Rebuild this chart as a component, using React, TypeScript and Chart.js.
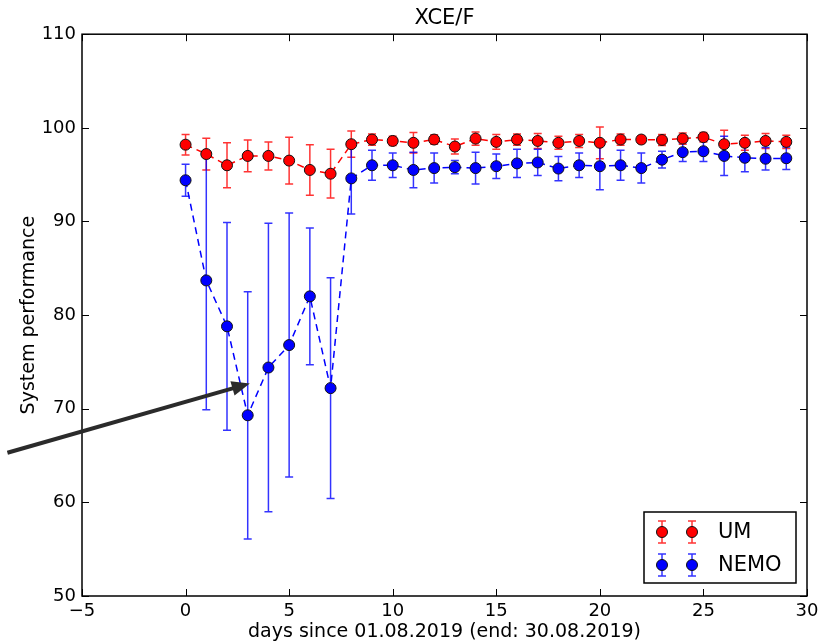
import { useEffect, useRef } from "react";
import { Chart, registerables } from "chart.js";

Chart.register(...registerables);

const FONT = "'DejaVu Sans', 'Liberation Sans', sans-serif";

// days since 01.08.2019
const days = [0, 1, 2, 3, 4, 5, 6, 7, 8, 9, 10, 11, 12, 13, 14, 15, 16, 17, 18, 19, 20, 21, 22, 23, 24, 25, 26, 27, 28, 29];

const umValues = [98.2, 97.2, 96.0, 97.0, 97.0, 96.5, 95.5, 95.1, 98.25, 98.75, 98.6, 98.4, 98.75, 98.0, 98.85, 98.5, 98.75, 98.6, 98.4, 98.6, 98.4, 98.75, 98.75, 98.7, 98.85, 99.0, 98.25, 98.4, 98.6, 98.5];
const umErrors = [1.1, 1.7, 2.4, 1.7, 1.5, 2.5, 2.7, 2.6, 1.4, 0.6, 0.5, 1.1, 0.5, 0.8, 0.7, 0.8, 0.6, 0.8, 0.7, 0.7, 1.7, 0.6, 0.4, 0.6, 0.6, 0.5, 1.5, 0.8, 0.8, 0.7];

const nemoValues = [94.4, 83.7, 78.8, 69.3, 74.4, 76.8, 82.0, 72.2, 94.6, 96.0, 96.0, 95.5, 95.7, 95.8, 95.7, 95.9, 96.2, 96.3, 95.65, 96.0, 95.9, 96.0, 95.7, 96.6, 97.4, 97.5, 97.0, 96.8, 96.7, 96.75];
const nemoErrors = [1.7, 13.8, 11.1, 13.2, 15.4, 14.1, 7.3, 11.8, 3.8, 1.6, 1.3, 1.9, 1.6, 0.7, 1.7, 1.3, 1.5, 1.4, 1.3, 1.3, 2.5, 1.6, 1.6, 0.9, 1.0, 1.1, 2.1, 1.5, 1.2, 1.2];

const xTicks = [-5, 0, 5, 10, 15, 20, 25, 30];
const yTicks = [50, 60, 70, 80, 90, 100, 110];

const seriesNames = ["UM", "NEMO"];
const titleText = "XCE/F";
const xTitle = "days since 01.08.2019 (end: 30.08.2019)";
const yTitle = "System performance";

// annotation arrow, tail and head in data units
const arrowTail = { x: -8.6, y: 65.3 };
const arrowHead = { x: 3.1, y: 72.7 };

const UM_COLOR = "#ff0000";
const NEMO_COLOR = "#0000ff";
const UM_ERR = "rgba(255,0,0,0.8)";
const NEMO_ERR = "rgba(0,0,255,0.8)";

const fmt = (v: number) => (v < 0 ? "\u2212" + Math.abs(v) : String(v));

type Series = { color: string; errColor: string; values: number[]; errors: number[] };
const series: Series[] = [
  { color: UM_COLOR, errColor: UM_ERR, values: umValues, errors: umErrors },
  { color: NEMO_COLOR, errColor: NEMO_ERR, values: nemoValues, errors: nemoErrors },
];

function drawErrorBar(ctx: CanvasRenderingContext2D, x: number, yTop: number, yBot: number, color: string) {
  const cap = 4;
  ctx.strokeStyle = color;
  ctx.lineWidth = 1.5;
  ctx.beginPath();
  ctx.moveTo(x, yTop);
  ctx.lineTo(x, yBot);
  ctx.moveTo(x - cap, yTop);
  ctx.lineTo(x + cap, yTop);
  ctx.moveTo(x - cap, yBot);
  ctx.lineTo(x + cap, yBot);
  ctx.stroke();
}

function drawMarker(ctx: CanvasRenderingContext2D, x: number, y: number, color: string) {
  ctx.beginPath();
  ctx.arc(x, y, 5.5, 0, Math.PI * 2);
  ctx.fillStyle = color;
  ctx.fill();
  ctx.lineWidth = 1;
  ctx.strokeStyle = "#111";
  ctx.stroke();
}

const errorBarPlugin = {
  id: "errorBars",
  beforeDatasetsDraw(chart: any) {
    const { ctx, chartArea, scales } = chart;
    ctx.save();
    ctx.beginPath();
    ctx.rect(chartArea.left, chartArea.top, chartArea.right - chartArea.left, chartArea.bottom - chartArea.top);
    ctx.clip();
    series.forEach((s) => {
      days.forEach((d, i) => {
        const x = scales.x.getPixelForValue(d);
        const yTop = scales.y.getPixelForValue(s.values[i] + s.errors[i]);
        const yBot = scales.y.getPixelForValue(s.values[i] - s.errors[i]);
        drawErrorBar(ctx, x, yTop, yBot, s.errColor);
      });
    });
    ctx.restore();
  },
};

const framePlugin = {
  id: "frame",
  afterDatasetsDraw(chart: any) {
    const { ctx, chartArea, scales } = chart;
    const { left, right, top, bottom } = chartArea;
    const tl = 7;
    ctx.save();
    ctx.strokeStyle = "#000";
    ctx.lineWidth = 1;
    ctx.beginPath();
    xTicks.forEach((v) => {
      const x = Math.round(scales.x.getPixelForValue(v)) + 0.5;
      ctx.moveTo(x, bottom);
      ctx.lineTo(x, bottom - tl);
      ctx.moveTo(x, top);
      ctx.lineTo(x, top + tl);
    });
    yTicks.forEach((v) => {
      const y = Math.round(scales.y.getPixelForValue(v)) + 0.5;
      ctx.moveTo(left, y);
      ctx.lineTo(left + tl, y);
      ctx.moveTo(right, y);
      ctx.lineTo(right - tl, y);
    });
    ctx.stroke();
    ctx.lineWidth = 1.5;
    ctx.strokeRect(left, top, right - left, bottom - top);
    ctx.restore();
  },
};

const overlayPlugin = {
  id: "overlay",
  afterDraw(chart: any) {
    const { ctx, chartArea, scales } = chart;
    ctx.save();

    // legend box in the lower right corner
    const bw = 152;
    const bh = 71;
    const bx = chartArea.right - 11 - bw;
    const by = chartArea.bottom - 13 - bh;
    ctx.fillStyle = "#fff";
    ctx.fillRect(bx, by, bw, bh);
    ctx.strokeStyle = "#000";
    ctx.lineWidth = 1.5;
    ctx.strokeRect(bx, by, bw, bh);
    const rows = [by + 20, by + 53];
    seriesNames.forEach((name, i) => {
      const s = series[i];
      const cy = rows[i];
      [bx + 18, bx + 48].forEach((mx) => {
        drawErrorBar(ctx, mx, cy - 11, cy + 11, s.errColor);
        drawMarker(ctx, mx, cy, s.color);
      });
      ctx.fillStyle = "#000";
      ctx.font = `21px ${FONT}`;
      ctx.textAlign = "left";
      ctx.textBaseline = "middle";
      ctx.fillText(name, bx + 74, cy + 1);
    });

    // annotation arrow
    const x0 = scales.x.getPixelForValue(arrowTail.x);
    const y0 = scales.y.getPixelForValue(arrowTail.y);
    const x1 = scales.x.getPixelForValue(arrowHead.x);
    const y1 = scales.y.getPixelForValue(arrowHead.y);
    const ang = Math.atan2(y1 - y0, x1 - x0);
    const headLen = 18;
    const headHalf = 7.5;
    const bxp = x1 - headLen * Math.cos(ang);
    const byp = y1 - headLen * Math.sin(ang);
    ctx.strokeStyle = "#2b2b2b";
    ctx.fillStyle = "#2b2b2b";
    ctx.lineWidth = 4;
    ctx.lineCap = "butt";
    ctx.beginPath();
    ctx.moveTo(x0, y0);
    ctx.lineTo(bxp + 2 * Math.cos(ang), byp + 2 * Math.sin(ang));
    ctx.stroke();
    ctx.beginPath();
    ctx.moveTo(x1, y1);
    ctx.lineTo(bxp - headHalf * Math.sin(ang), byp + headHalf * Math.cos(ang));
    ctx.lineTo(bxp + headHalf * Math.sin(ang), byp - headHalf * Math.cos(ang));
    ctx.closePath();
    ctx.fill();
    ctx.restore();
  },
};

export default function App() {
  const canvasRef = useRef<HTMLCanvasElement | null>(null);

  useEffect(() => {
    const canvas = canvasRef.current;
    if (!canvas) return;

    const datasets = series.map((s, i) => ({
      label: seriesNames[i],
      data: days.map((d, j) => ({ x: d, y: s.values[j] })),
      borderColor: s.color,
      backgroundColor: s.color,
      borderWidth: 1.5,
      borderDash: [7, 5],
      pointRadius: 5.5,
      pointBorderWidth: 1,
      pointBorderColor: "#111",
      pointBackgroundColor: s.color,
      tension: 0,
      fill: false,
    }));

    const chart = new Chart(canvas, {
      type: "line",
      data: { datasets },
      options: {
        animation: false,
        responsive: false,
        devicePixelRatio: 1,
        layout: { padding: { left: 0, right: 12, top: 0, bottom: 0 } },
        plugins: {
          legend: { display: false },
          tooltip: { enabled: false },
          title: {
            display: true,
            text: titleText,
            fullSize: false,
            color: "#000",
            font: { family: FONT, size: 21, weight: "normal" },
            padding: { top: 6, bottom: 3 },
          },
        },
        scales: {
          x: {
            type: "linear",
            min: -5,
            max: 30,
            afterBuildTicks: (scale: any) => {
              scale.ticks = xTicks.map((v) => ({ value: v }));
            },
            afterFit: (scale: any) => {
              scale.height = 45;
              scale.paddingLeft = 0;
              scale.paddingRight = 0;
            },
            ticks: {
              color: "#000",
              font: { family: FONT, size: 18 },
              padding: 5,
              maxRotation: 0,
              autoSkip: false,
              callback: (v: any) => fmt(Number(v)),
            },
            grid: { display: false, drawTicks: false },
            border: { display: false },
            title: {
              display: true,
              text: xTitle,
              color: "#000",
              font: { family: FONT, size: 19 },
              padding: { top: 0, bottom: -2 },
            },
          },
          y: {
            type: "linear",
            min: 50,
            max: 110,
            afterBuildTicks: (scale: any) => {
              scale.ticks = yTicks.map((v) => ({ value: v }));
            },
            afterFit: (scale: any) => {
              scale.width = 82;
            },
            ticks: {
              color: "#000",
              font: { family: FONT, size: 18 },
              padding: 6,
              callback: (v: any) => fmt(Number(v)),
            },
            grid: { display: false, drawTicks: false },
            border: { display: false },
            title: {
              display: true,
              text: yTitle,
              color: "#000",
              font: { family: FONT, size: 19 },
              padding: { top: 18, bottom: 0 },
            },
          },
        },
      },
      plugins: [errorBarPlugin, framePlugin, overlayPlugin],
    } as any);

    return () => chart.destroy();
  }, []);

  return (
    <div style={{ position: "fixed", left: 0, top: 0, width: 819, height: 641, background: "#fff" }}>
      <canvas ref={canvasRef} width={819} height={641} />
    </div>
  );
}
